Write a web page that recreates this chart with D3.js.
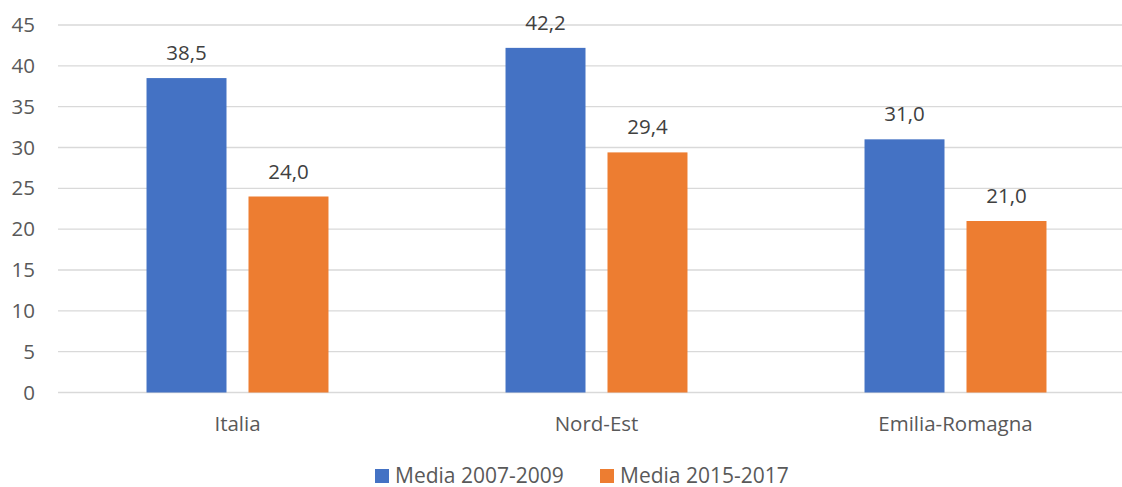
<!DOCTYPE html>
<html>
<head>
<meta charset="utf-8">
<script src="https://cdn.jsdelivr.net/npm/d3@7"></script>
<style>
  html, body { margin: 0; padding: 0; background: #fff; }
  svg { display: block; font-family: "Open Sans", "Noto Sans", sans-serif; }
</style>
</head>
<body>
<svg id="chart" width="1122" height="487"></svg>
<script>
// Categories and series
const categories = ["Italia", "Nord-Est", "Emilia-Romagna"];
const seriesNames = ["Media 2007-2009", "Media 2015-2017"];
const media2007_2009 = [38.5, 42.2, 31.0];
const media2015_2017 = [24.0, 29.4, 21.0];
const yTicks = [0, 5, 10, 15, 20, 25, 30, 35, 40, 45];
const colors = ["#4472C4", "#ED7D31"];

const seriesValues = [media2007_2009, media2015_2017];
const rows = categories.map((c, i) => ({
  category: c,
  values: seriesNames.map((s, j) => ({ series: s, idx: j, value: seriesValues[j][i] }))
}));

const svg = d3.select("#chart");
const plotLeft = 58, plotRight = 1135, plotTop = 25, plotBottom = 392.5;
const fontSize = 20.5;

const y = d3.scaleLinear().domain([0, 45]).range([plotBottom, plotTop]);
const x0 = d3.scaleBand().domain(categories).range([plotLeft, plotRight]).padding(0);
const x1 = d3.scaleBand().domain(seriesNames).range([0, x0.bandwidth()])
  .paddingInner(0.2157).paddingOuter(0.868);

// Horizontal gridlines
svg.append("g")
  .selectAll("line")
  .data(yTicks)
  .join("line")
  .attr("x1", plotLeft).attr("x2", 1122)
  .attr("y1", d => y(d)).attr("y2", d => y(d))
  .attr("stroke", "#d9d9d9").attr("stroke-width", 1.3);

// Y axis labels
const yAxis = d3.axisLeft(y).tickValues(yTicks).tickSize(0).tickPadding(0).tickFormat(d3.format("d"));
const yg = svg.append("g").attr("transform", "translate(35,0)").call(yAxis);
yg.select(".domain").remove();
yg.selectAll("text")
  .attr("fill", "#595959").attr("font-size", fontSize)
  .attr("font-family", "'Open Sans', 'Noto Sans', sans-serif");

// Bars
const groups = svg.append("g")
  .selectAll("g")
  .data(rows)
  .join("g")
  .attr("transform", d => `translate(${x0(d.category)},0)`);

groups.selectAll("rect")
  .data(d => d.values)
  .join("rect")
  .attr("x", d => x1(d.series))
  .attr("width", x1.bandwidth())
  .attr("y", d => y(d.value))
  .attr("height", d => y(0) - y(d.value))
  .attr("fill", d => colors[d.idx]);

// Value labels
const fmt = v => d3.format(".1f")(v).replace(".", ",");
groups.selectAll("text.val")
  .data(d => d.values)
  .join("text")
  .attr("class", "val")
  .attr("x", d => x1(d.series) + x1.bandwidth() / 2)
  .attr("y", d => y(d.value) - 18)
  .attr("text-anchor", "middle")
  .attr("fill", "#404040")
  .attr("font-size", fontSize)
  .text(d => fmt(d.value));

// Category axis labels
const xAxis = d3.axisBottom(x0).tickSize(0).tickPadding(0);
const xg = svg.append("g").attr("transform", `translate(0,${plotBottom})`).call(xAxis);
xg.select(".domain").remove();
xg.selectAll("text")
  .attr("fill", "#595959").attr("font-size", fontSize)
  .attr("font-family", "'Open Sans', 'Noto Sans', sans-serif")
  .attr("dy", null)
  .attr("y", 38.5);

// Legend
const legendItems = [
  { name: seriesNames[0], color: colors[0], x: 375 },
  { name: seriesNames[1], color: colors[1], x: 600 }
];
const lg = svg.append("g").selectAll("g").data(legendItems).join("g")
  .attr("transform", d => `translate(${d.x},469)`);
lg.append("rect").attr("width", 14).attr("height", 14).attr("fill", d => d.color);
lg.append("text").attr("x", 20).attr("y", 13.5)
  .attr("fill", "#595959").attr("font-size", 21)
  .text(d => d.name);
</script>
</body>
</html>
